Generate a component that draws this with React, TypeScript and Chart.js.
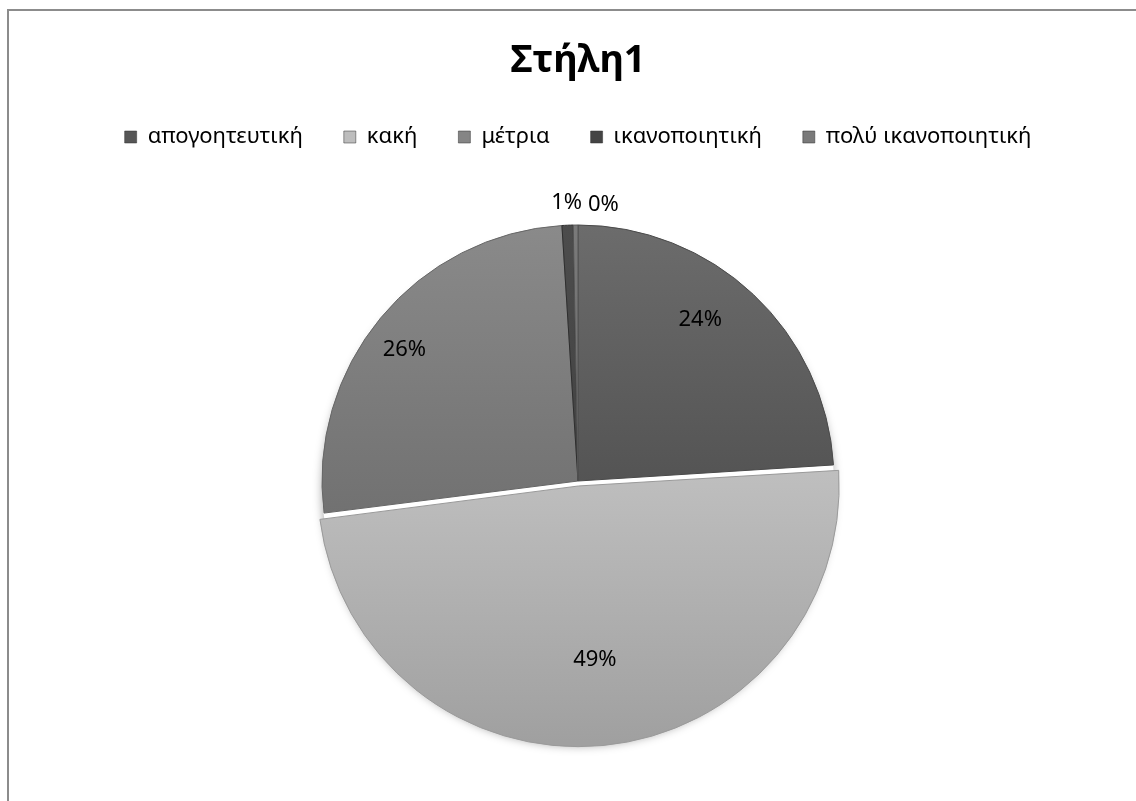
import React, { useEffect, useRef } from 'react';
import { Chart, registerables } from 'chart.js';

Chart.register(...registerables);

// ---- data ----
const chartTitle = 'Στήλη1';
const categories = ['απογοητευτική', 'κακή', 'μέτρια', 'ικανοποιητική', 'πολύ ικανοποιητική'];
const values = [24, 49, 26, 0.7, 0.3];

// ---- styles ----
const FONT = "'Noto Sans', 'DejaVu Sans', sans-serif";
const PIE_RADIUS = 256;
const gradTop = ['#6c6c6c', '#dadada', '#8a8a8a', '#4c4c4c', '#7a7a7a'];
const gradBottom = ['#3c3c3c', '#a0a0a0', '#5e5e5e', '#3a3a3a', '#5a5a5a'];
const legendColors = ['#565656', '#bdbdbd', '#858585', '#444444', '#7a7a7a'];
const borderColors = ['#4a4a4a', '#9a9a9a', '#666666', '#2e2e2e', '#555555'];
const sliceOffsets = [0, 20, 0, 0, 0];
const labelFactor = [0.8, 0.68, 0.86, 1, 1];
const labelNudge = [[-18, -12], [0, 0], [-4, 9], [0, 0], [28, 2]];

const shadowPlugin = {
  id: 'pieShadow',
  beforeDatasetsDraw(chart: any) {
    const meta = chart.getDatasetMeta(0);
    const arc = meta.data[0];
    if (!arc) return;
    const { x, y, outerRadius } = arc.getProps(['x', 'y', 'outerRadius'], true);
    const ctx = chart.ctx;
    ctx.save();
    ctx.shadowColor = 'rgba(0,0,0,0.35)';
    ctx.shadowBlur = 10;
    ctx.shadowOffsetY = 5;
    ctx.fillStyle = '#ffffff';
    ctx.beginPath();
    ctx.arc(x, y + 4, outerRadius, 0, Math.PI * 2);
    ctx.fill();
    ctx.restore();
  },
};

const labelPlugin = {
  id: 'pctLabels',
  afterDatasetsDraw(chart: any) {
    const ctx = chart.ctx;
    const meta = chart.getDatasetMeta(0);
    const total = values.reduce((a, b) => a + b, 0);
    ctx.save();
    ctx.font = `22px ${FONT}`;
    ctx.fillStyle = '#000000';
    ctx.textAlign = 'center';
    ctx.textBaseline = 'middle';
    meta.data.forEach((arc: any, i: number) => {
      const { x, y, startAngle, endAngle, outerRadius } = arc.getProps(
        ['x', 'y', 'startAngle', 'endAngle', 'outerRadius'],
        true
      );
      const mid = (startAngle + endAngle) / 2;
      const pct = Math.round((values[i] / total) * 100);
      const small = pct < 3;
      const off = sliceOffsets[i] / 4;
      const r = small ? outerRadius + 22 : outerRadius * labelFactor[i];
      const lx = x + Math.cos(mid) * (r + off) + labelNudge[i][0];
      const ly = y + Math.sin(mid) * (r + off) + labelNudge[i][1];
      ctx.fillText(`${pct}%`, lx, ly);
    });
    ctx.restore();
  },
};

function makeGradient(chart: any, i: number) {
  const area = chart.chartArea;
  if (!area) return legendColors[i];
  const cy = (area.top + area.bottom) / 2;
  const g = chart.ctx.createLinearGradient(0, cy - PIE_RADIUS, 0, cy + PIE_RADIUS);
  g.addColorStop(0, gradTop[i]);
  g.addColorStop(1, gradBottom[i]);
  return g;
}

export default function App() {
  const canvasRef = useRef<HTMLCanvasElement | null>(null);

  useEffect(() => {
    const canvas = canvasRef.current;
    if (!canvas) return;
    const chart = new Chart(canvas, {
      type: 'pie',
      data: {
        labels: categories,
        datasets: [
          {
            data: values,
            backgroundColor: (ctx: any) => makeGradient(ctx.chart, ctx.dataIndex),
            borderColor: borderColors,
            borderWidth: 1,
            offset: sliceOffsets,
          },
        ],
      },
      options: {
        responsive: false,
        animation: false,
        devicePixelRatio: 1,
        radius: PIE_RADIUS,
        rotation: 0,
        layout: { padding: { left: 20, right: 0, top: 0, bottom: 0 } },
        plugins: {
          title: {
            display: true,
            text: chartTitle,
            color: '#000000',
            font: { family: FONT, size: 38, weight: 'bold' },
            padding: { top: 38, bottom: 1.4 },
          },
          legend: {
            display: true,
            position: 'top',
            labels: {
              color: '#000000',
              font: { family: FONT, size: 22 },
              boxWidth: 12,
              boxHeight: 12,
              padding: 41,
              generateLabels: () =>
                categories.map((c, i) => ({
                  text: c,
                  fillStyle: legendColors[i],
                  strokeStyle: '#333333',
                  lineWidth: 0.5,
                  hidden: false,
                  index: i,
                })),
            },
          },
          tooltip: { enabled: false },
        },
      },
      plugins: [shadowPlugin, labelPlugin],
    });
    return () => chart.destroy();
  }, []);

  return (
    <div>
      <div
        style={{
          position: 'fixed',
          left: 7,
          top: 9,
          width: 1140,
          height: 800,
          borderTop: '2px solid #8c8c8c',
          borderLeft: '2px solid #8c8c8c',
          boxSizing: 'border-box',
        }}
      />
      <canvas
        ref={canvasRef}
        width={1136}
        height={804}
        style={{ position: 'fixed', left: 0, top: 0, width: 1136, height: 804 }}
      />
    </div>
  );
}
